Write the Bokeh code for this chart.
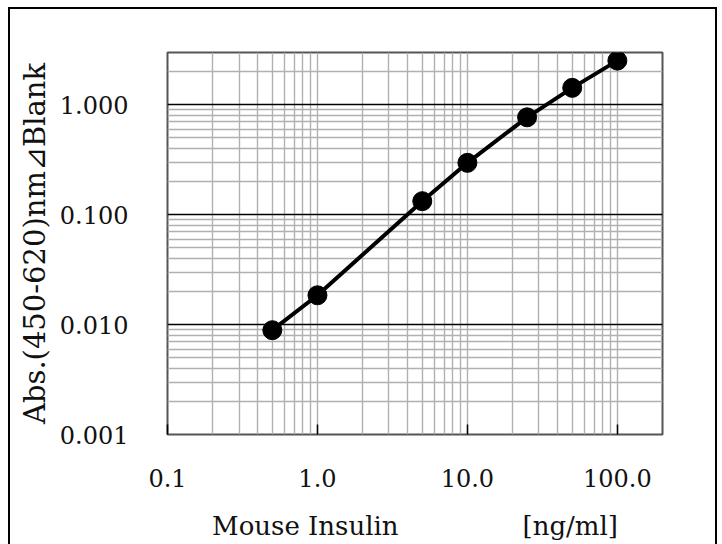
from bokeh.plotting import figure
from bokeh.models import FixedTicker, PrintfTickFormatter
from bokeh.embed import file_html
from bokeh.resources import INLINE

# ---- data ----
conc = [0.5, 1.0, 5.0, 10.0, 25.0, 50.0, 100.0]          # Mouse Insulin [ng/ml]
absorb = [0.0089, 0.0185, 0.133, 0.297, 0.771, 1.43, 2.53]  # Abs.(450-620)nm / Blank

x_major = [0.1, 1.0, 10.0, 100.0]
x_minor = [0.2, 0.3, 0.4, 0.5, 0.6, 0.7, 0.8, 0.9,
           2.0, 3.0, 4.0, 5.0, 6.0, 7.0, 8.0, 9.0,
           20.0, 30.0, 40.0, 50.0, 60.0, 70.0, 80.0, 90.0,
           200.0]
y_major = [0.001, 0.01, 0.1, 1.0]
y_minor = [0.002, 0.003, 0.004, 0.005, 0.006, 0.007, 0.008, 0.009,
           0.02, 0.03, 0.04, 0.05, 0.06, 0.07, 0.08, 0.09,
           0.2, 0.3, 0.4, 0.5, 0.6, 0.7, 0.8, 0.9,
           2.0, 3.0]

x_title = "Mouse Insulin"
x_unit = "[ng/ml]"
y_title = "Abs.(450-620)nm\u22bfBlank"

FONT = "'DejaVu Serif', 'Liberation Serif', serif"
NBSP = "\u00a0"

p = figure(width=722, height=544,
           x_axis_type="log", y_axis_type="log",
           x_range=(0.1, 200), y_range=(0.001, 3),
           output_backend="svg", toolbar_location=None,
           min_border_left=167, min_border_right=60,
           min_border_top=52, min_border_bottom=110)

# outer picture border (left, top, right) drawn behind a transparent canvas border
p.border_fill_color = None
p.styles = {
    "background-color": "white",
    "background-image": "linear-gradient(#000,#000), linear-gradient(#000,#000), linear-gradient(#000,#000)",
    "background-size": "2px 100%, 709px 2px, 2px 100%",
    "background-position": "8px 7px, 8px 7px, 715px 7px",
    "background-repeat": "no-repeat",
}

p.background_fill_color = "white"
p.outline_line_color = "#555555"
p.outline_line_width = 2

# tickers
p.xaxis.ticker = FixedTicker(ticks=x_major, minor_ticks=x_minor)
p.yaxis.ticker = FixedTicker(ticks=y_major, minor_ticks=y_minor)
p.xaxis.formatter = PrintfTickFormatter(format="%.1f")
p.yaxis.formatter = PrintfTickFormatter(format="%.3f")

# grids
p.xgrid.grid_line_color = "#b0b0b0"
p.xgrid.grid_line_width = 1.4
p.xgrid.minor_grid_line_color = "#b0b0b0"
p.xgrid.minor_grid_line_width = 1.4
p.ygrid.grid_line_color = "black"
p.ygrid.grid_line_width = 1.4
p.ygrid.minor_grid_line_color = "#b0b0b0"
p.ygrid.minor_grid_line_width = 1.4

# axes
for ax in (p.xaxis[0], p.yaxis[0]):
    ax.axis_line_color = None
    ax.minor_tick_line_color = None
    ax.major_label_text_font = FONT
    ax.major_label_text_font_size = "24px"
    ax.major_label_text_color = "#111111"
    ax.axis_label_text_font = FONT
    ax.axis_label_text_font_style = "normal"
    ax.axis_label_text_color = "#111111"

p.xaxis.major_tick_in = 10
p.xaxis.major_tick_out = 0
p.xaxis.major_tick_line_color = "black"
p.xaxis.major_tick_line_width = 1.5
p.xaxis.major_label_standoff = 30
p.xaxis.axis_label = x_title + NBSP * 15 + x_unit
p.xaxis.axis_label_text_font_size = "26px"
p.xaxis.axis_label_standoff = 21

p.yaxis.major_tick_in = 0
p.yaxis.major_tick_out = 0
p.yaxis.major_tick_line_color = None
p.yaxis.major_label_standoff = 35
p.yaxis.axis_label = y_title
p.yaxis.axis_label_text_font_size = "29px"
p.yaxis.axis_label_standoff = 5

# data
p.line(conc, absorb, line_color="black", line_width=4)
p.scatter(conc, absorb, size=19, fill_color="black", line_color="black")

open("out.html", "w").write(file_html(p, INLINE))
